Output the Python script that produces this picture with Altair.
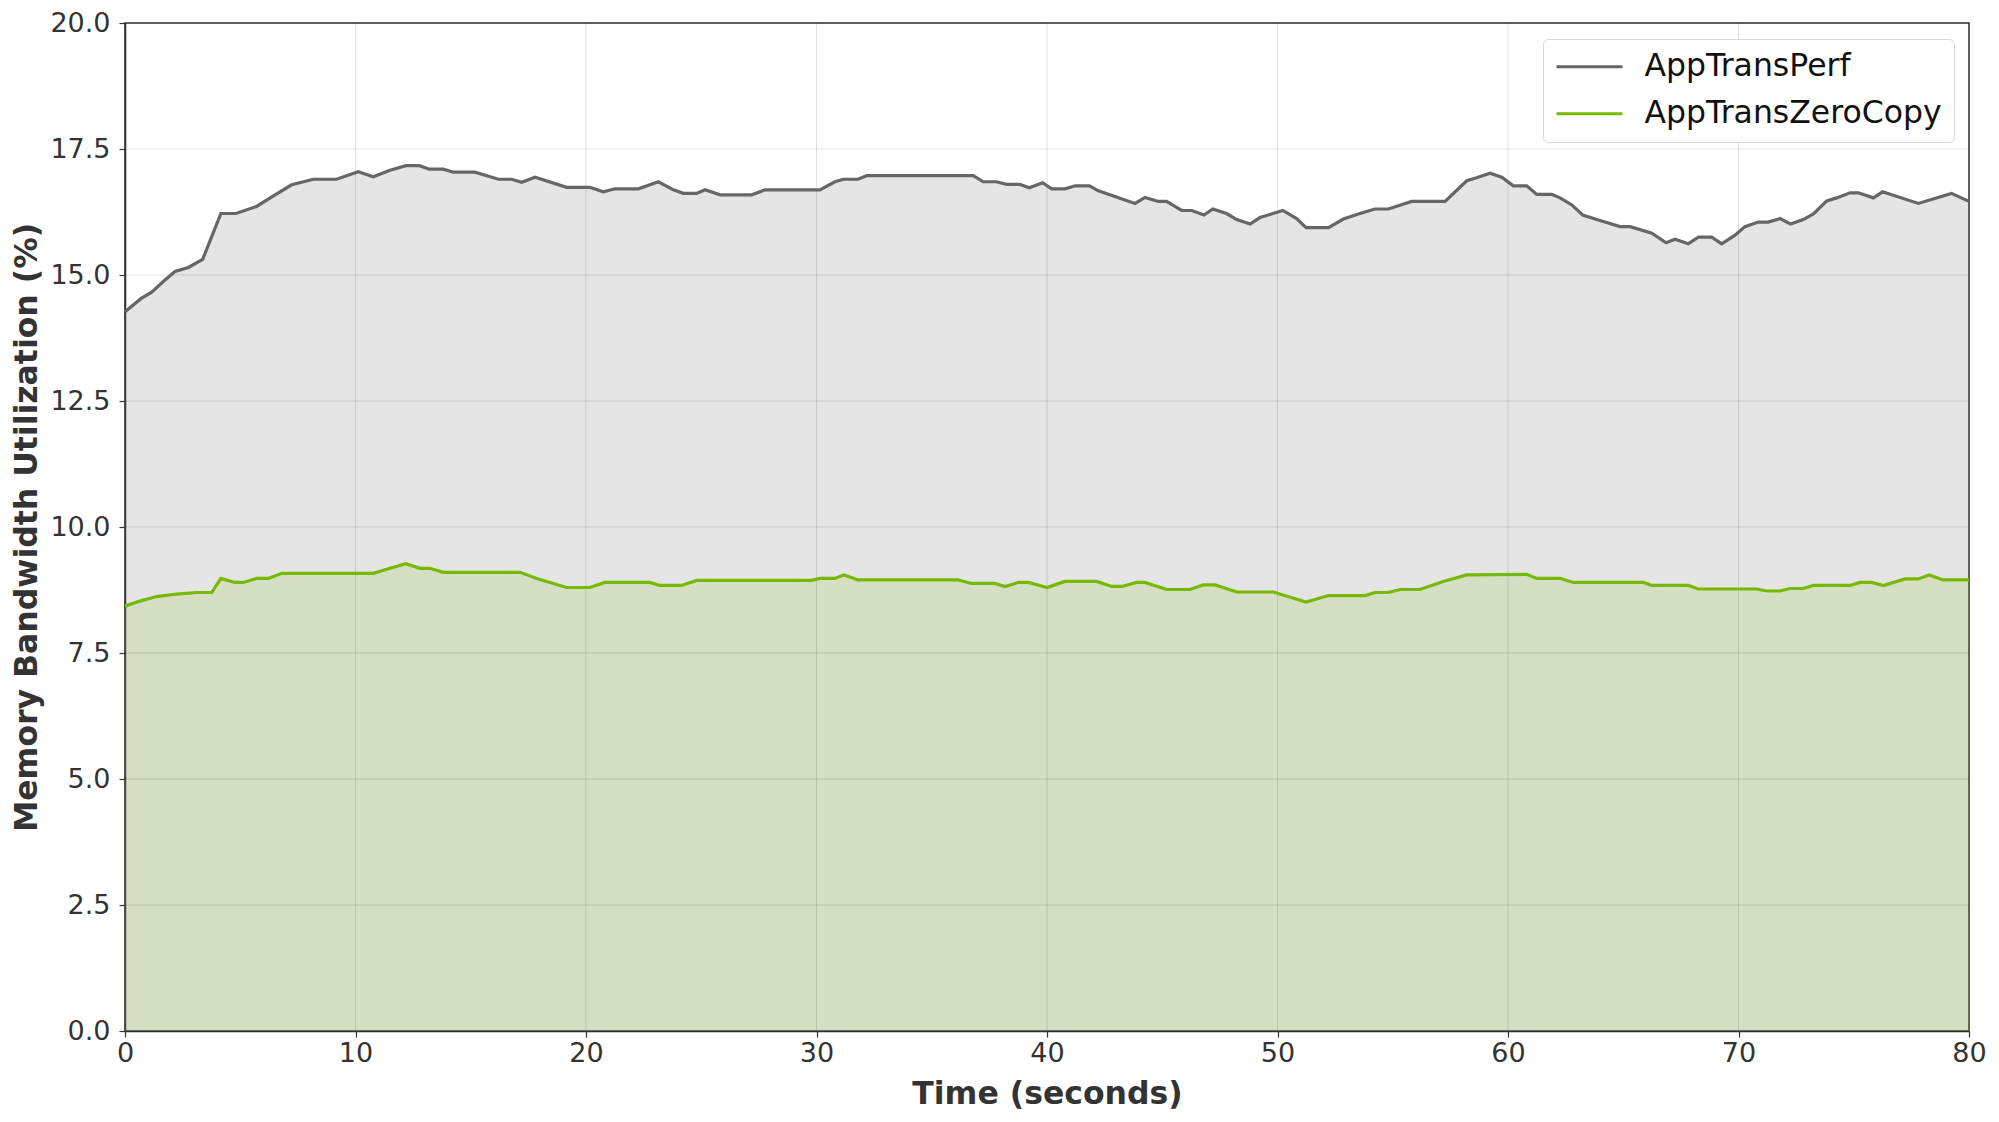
import altair as alt
import pandas as pd

series_names = ["AppTransPerf", "AppTransZeroCopy"]
series_colors = ["#666666", "#76b900"]

perf_t = [0, 0.72, 1.16, 1.66, 2.17, 2.75, 3.37, 4.16, 4.82, 5.71, 6.44, 7.23, 8.17, 9.18,
          10.12, 10.77, 11.5, 12.19, 12.77, 13.2, 13.81, 14.24, 15.18, 16.2, 16.78, 17.21,
          17.79, 19.16, 20.17, 20.75, 21.26, 22.27, 23.14, 23.79, 24.22, 24.8, 25.16, 25.82,
          27.19, 27.77, 30.15, 30.8, 31.16, 31.81, 32.17, 36.8, 37.23, 37.81, 38.24, 38.82,
          39.23, 39.81, 40.2, 40.78, 41.22, 41.84, 42.23, 43.82, 44.25, 44.83, 45.19, 45.84,
          46.28, 46.81, 47.19, 47.79, 48.23, 48.81, 49.24, 50.23, 50.83, 51.24, 52.21, 52.86,
          53.58, 54.23, 54.81, 55.82, 57.27, 58.21, 58.64, 59.22, 59.73, 60.23, 60.81, 61.25,
          61.89, 62.26, 62.77, 63.24, 63.85, 64.86, 65.3, 66.24, 66.86, 67.25, 67.82, 68.26,
          68.84, 69.27, 69.85, 70.28, 70.86, 71.29, 71.8, 72.26, 72.81, 73.25, 73.83, 74.26,
          74.84, 75.2, 75.85, 76.25, 77.8, 79.24, 80.0]
perf_v = [14.27, 14.54, 14.66, 14.87, 15.07, 15.15, 15.31, 16.22, 16.22, 16.36, 16.57, 16.79, 16.90, 16.90,
          17.05, 16.95, 17.08, 17.17, 17.17, 17.10, 17.10, 17.04, 17.04, 16.90, 16.90, 16.84,
          16.94, 16.74, 16.74, 16.65, 16.71, 16.71, 16.85, 16.69, 16.62, 16.62, 16.69, 16.59,
          16.59, 16.69, 16.69, 16.85, 16.90, 16.90, 16.97, 16.97, 16.85, 16.85, 16.80, 16.80,
          16.73, 16.83, 16.71, 16.71, 16.77, 16.77, 16.67, 16.42, 16.54, 16.46, 16.46, 16.28,
          16.28, 16.19, 16.31, 16.22, 16.10, 16.01, 16.14, 16.28, 16.12, 15.94, 15.94, 16.11,
          16.22, 16.31, 16.31, 16.46, 16.46, 16.87, 16.93, 17.02, 16.94, 16.77, 16.77, 16.60,
          16.60, 16.53, 16.39, 16.19, 16.10, 15.96, 15.96, 15.83, 15.64, 15.71, 15.62, 15.75,
          15.75, 15.62, 15.79, 15.96, 16.05, 16.05, 16.12, 16.01, 16.10, 16.21, 16.47, 16.53,
          16.63, 16.63, 16.53, 16.65, 16.42, 16.62, 16.46]

zc_t = [0, 0.65, 1.37, 2.24, 3.11, 3.76, 4.16, 4.77, 5.13, 5.71, 6.22, 6.8, 10.77, 11.5,
        12.18, 12.8, 13.23, 13.81, 17.14, 17.86, 19.16, 20.17, 20.82, 22.77, 23.21, 24.15,
        24.8, 29.79, 30.15, 30.8, 31.19, 31.81, 36.15, 36.73, 37.74, 38.18, 38.76, 39.19,
        39.84, 40.0, 40.78, 42.16, 42.81, 43.24, 43.89, 44.25, 45.19, 46.2, 46.78, 47.29,
        48.23, 49.82, 51.24, 52.21, 53.8, 54.23, 54.81, 55.32, 56.18, 57.19, 58.21, 60.81,
        61.25, 62.26, 62.84, 65.88, 66.24, 67.83, 68.26, 70.79, 71.22, 71.8, 72.23, 72.81,
        73.25, 74.84, 75.27, 75.78, 76.28, 77.23, 77.8, 78.27, 78.88, 80.0]
zc_v = [8.43, 8.53, 8.62, 8.67, 8.70, 8.70, 8.98, 8.90, 8.90, 8.98, 8.98, 9.08, 9.08, 9.18,
        9.27, 9.18, 9.18, 9.10, 9.10, 8.98, 8.80, 8.80, 8.90, 8.90, 8.84, 8.84,
        8.94, 8.94, 8.98, 8.98, 9.05, 8.95, 8.95, 8.88, 8.88, 8.82, 8.90, 8.90,
        8.82, 8.80, 8.92, 8.92, 8.82, 8.82, 8.90, 8.90, 8.76, 8.76, 8.85, 8.85,
        8.71, 8.71, 8.51, 8.64, 8.64, 8.70, 8.70, 8.76, 8.76, 8.92, 9.05, 9.06,
        8.98, 8.98, 8.90, 8.90, 8.84, 8.84, 8.77, 8.77, 8.73, 8.73, 8.78, 8.78,
        8.84, 8.84, 8.90, 8.90, 8.84, 8.97, 8.97, 9.05, 8.95, 8.95]

x_ticks = [0, 10, 20, 30, 40, 50, 60, 70, 80]
y_ticks = [0.0, 2.5, 5.0, 7.5, 10.0, 12.5, 15.0, 17.5, 20.0]

df = pd.concat([
    pd.DataFrame({"t": perf_t, "v": perf_v, "series": series_names[0]}),
    pd.DataFrame({"t": zc_t, "v": zc_v, "series": series_names[1]}),
], ignore_index=True)
df["base"] = 0.0
xgrid = pd.DataFrame({"t": x_ticks})
ygrid = pd.DataFrame({"v": y_ticks})

FONT = "DejaVu Sans"
xscale = alt.Scale(domain=[0, 80], nice=False, zero=False)
yscale = alt.Scale(domain=[0, 20], nice=False)

x_axis = alt.Axis(values=x_ticks, format="d", title="Time (seconds)", grid=False,
                  labelFontSize=27, titleFontSize=31.5, titleFontWeight="bold",
                  labelPadding=3, titlePadding=12, tickSize=6, labelFlush=False)
y_axis = alt.Axis(values=y_ticks, format=".1f", title="Memory Bandwidth Utilization (%)", grid=False,
                  labelFontSize=27, titleFontSize=31.5, titleFontWeight="bold",
                  labelPadding=9, titlePadding=6, tickSize=6, labelFlush=False)

color = alt.Color("series:N", scale=alt.Scale(domain=series_names, range=series_colors),
                  legend=alt.Legend(title=None, orient="none", legendX=1418, legendY=16,
                                    symbolType="M-1.3,0L4.7,0", symbolSize=484, symbolStrokeWidth=3,
                                    labelFontSize=31.5, labelOffset=58, rowPadding=14, labelLimit=600,
                                    padding=12, fillColor="white", strokeColor="#d8d8d8",
                                    cornerRadius=5, labelColor="#111111", labelFont=FONT))

base = alt.Chart(df)

area_perf = base.transform_filter(alt.datum.series == series_names[0]).mark_area(
    color="#7f7f7f", fillOpacity=0.2, interpolate="linear"
).encode(
    x=alt.X("t:Q", scale=xscale, axis=x_axis),
    y=alt.Y("v:Q", scale=yscale, axis=y_axis, stack=None),
    y2=alt.Y2("base:Q"),
)
area_zc = base.transform_filter(alt.datum.series == series_names[1]).mark_area(
    color="#76b900", fillOpacity=0.15, interpolate="linear"
).encode(
    x=alt.X("t:Q", scale=xscale),
    y=alt.Y("v:Q", scale=yscale, stack=None),
    y2=alt.Y2("base:Q"),
)

vgrid = alt.Chart(xgrid).mark_rule(color="#000000", opacity=0.12, strokeWidth=1).encode(
    x=alt.X("t:Q", scale=xscale),
)
hgrid = alt.Chart(ygrid).mark_rule(color="#000000", opacity=0.12, strokeWidth=1).encode(
    y=alt.Y("v:Q", scale=yscale),
)

lines = base.mark_line(strokeWidth=3.2, interpolate="linear").encode(
    x=alt.X("t:Q", scale=xscale),
    y=alt.Y("v:Q", scale=yscale),
    color=color,
)

chart = alt.layer(area_perf, area_zc, vgrid, hgrid, lines).properties(
    width=1844, height=1008,
    padding={"left": 117, "top": 15, "right": 22, "bottom": 83},
    autosize=alt.AutoSizeParams(type="none"),
    background="white",
).configure_view(
    stroke="#333333", strokeWidth=1.5,
).configure_axis(
    labelFont=FONT, titleFont=FONT, labelColor="#333333", titleColor="#333333",
    domainColor="#333333", domainWidth=1.5, tickColor="#333333", tickWidth=1.2,
)

chart.save("out.html", embed_options={"renderer": "svg", "actions": False})
